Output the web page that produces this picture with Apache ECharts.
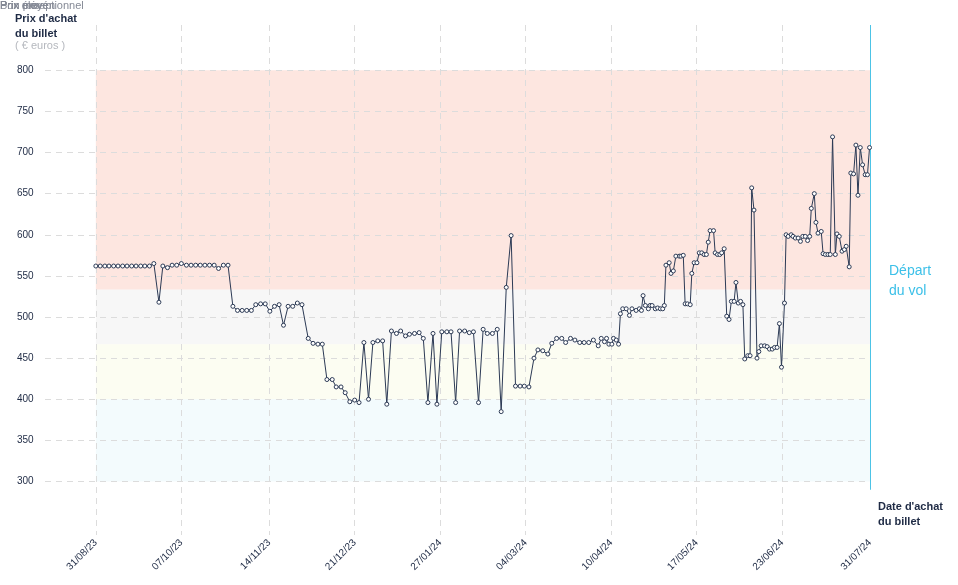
<!DOCTYPE html>
<html><head><meta charset="utf-8">
<script src="https://cdn.jsdelivr.net/npm/echarts@6/dist/echarts.min.js"></script>
<style>html,body{margin:0;padding:0;background:#fff}#c{width:958px;height:585px}</style>
</head><body><div id="c"></div>
<script>
// days since 31/08/23
const days = [0,1.9,3.9,5.7,7.7,9.6,11.6,13.5,15.5,17.4,19.4,21.2,23.2,25.1,27.3,29,31,33,35,37,39.2,41.2,43.2,45.2,47.2,49.2,51.2,53.1,55.2,57.2,59.3,61.3,63.3,65.3,67.3,69.2,71.3,73.3,75.3,77.3,79.3,81.2,83.2,85.2,87.2,89.2,
91.9,94,96.1,98,100,102.3,104,106.1,107.9,109.9,112,113.9,116,118,119.9,122,124.1,125.9,127.9,130.1,131.9,134,135.7,137.9,139.9,141.7,143.7,145.9,147.6,149.7,151.9,153.7,155.7,157.4,159.6,161.6,163.4,165.6,167.6,169.4,171.6,173.7,175.4,177.6,179.7,181.6,183.6,185.4,187.4,189.6,191.3,193.4,195.6,197.3,199.4,201.6,203.3,205.4,207.3,209.4,211.3,213.3,215.3,217.4,
218.7,220.1,221,222,223.3,224,225.2,226.2,227,228,229.5,230.9,232,233.8,235.2,236.1,236.8,237.8,239.1,239.8,240.7,242.1,243.1,244.3,245.3,246,246.7,248.1,248.9,249.9,251,252.5,253.2,254.2,255,256,257.2,257.9,258.9,260.1,261.1,262.2,263.2,264.2,265,265.8,267.3,268,269,270,270.8,271.9,273,274,275,276.2,277,278,279,280,280.8,282.1,283.1,283.8,284.8,286.1,286.9,287.9,289.4,290.5,291.5,292.7,293.7,294.8,295.8,296.7,298,298.7,299.6,300.9,301.7,302.7,303.9,304.9,305.9,307,308,308.9,309.6,310.9,311.6,312.5,313.9,314.7,315.7,316.8,317.8,318.8,320,320.7,321.7,322.9,323.9,324.7,326,326.7,327.9,328.9,329.8,330.8,331.8,332.9,333.9,334.8];
const prices = [562,562,562,562,562,562,562,562,562,562,562,562,562,565,518,562,560,563,563,565,563,563,563,563,563,563,563,559,563,563,513,508,508,508,508,515,516,516,507,513,515,490,513,513,517,515,
474,468,467,467,424,424,415,415,408,397,399,396,469,400,469,471,471,394,483,480,483,477,479,480,481,474,396,480,394,482,482,482,396,483,483,481,482,396,485,480,480,485,385,536,599,416,416,416,415,450,460,459,455,468,474,474,469,474,472,469,469,469,472,465,
474,470,474,467,467,474,472,467,504,510,510,502,510,508,510,508,526,514,510,514,514,510,511,510,510,514,563,566,553,556,574,574,574,575,516,516,515,553,566,566,578,578,576,576,591,605,605,578,576,576,578,583,501,497,519,519,542,517,519,515,449,453,453,657,630,450,458,465,465,464,461,461,463,463,492,439,517,600,598,600,598,596,596,592,598,598,593,598,632,650,615,602,604,577,576,576,576,719,576,601,598,580,582,586,561,675,674,709,648,706,685,673,673,706];
const tickDays = [0,37,75,112,149,186,223,260,297,335];
const tickLabels = ['31/08/23','07/10/23','14/11/23','21/12/23','27/01/24','04/03/24','10/04/24','17/05/24','23/06/24','31/07/24'];
const yTicks = [300,350,400,450,500,550,600,650,700,750,800];
const bands = [
  {name:'Prix élevé', from:533, to:800, color:'#fde6e0'},
  {name:'Prix moyen', from:467, to:533, color:'#f7f7f7'},
  {name:'Bon prix', from:400, to:467, color:'#fcfdf2'},
  {name:'Prix exceptionnel', from:300, to:400, color:'#f3fbfd'}
];

const data = days.map((d,i)=>[d,prices[i]]);
const grid = '#dcdcdc';
const chart = echarts.init(document.getElementById('c'));
chart.setOption({
  animation:false,
  grid:{left:45,right:88,top:25,bottom:50},
  xAxis:{type:'value',min:-22,max:335,splitLine:{show:false},axisLine:{show:false},axisTick:{show:false},
    axisLabel:{customValues:tickDays,rotate:45,color:'#1e2a44',fontSize:10,fontFamily:'Liberation Sans',margin:6,
      formatter:v=>{const i=tickDays.indexOf(v);return i>=0?tickLabels[i]:'';}}},
  yAxis:{type:'value',min:235,max:855,splitLine:{show:false},axisLine:{show:false},axisTick:{show:false},
    axisLabel:{customValues:yTicks,align:'left',margin:28,color:'#1e2a44',fontSize:10,fontFamily:'Liberation Sans'}},
  graphic:[
    {type:'text',left:15,top:11,style:{text:"Prix d'achat\ndu billet",font:'bold 11px Liberation Sans',fill:'#1e2a44',lineHeight:15}},
    {type:'text',left:15,top:40,style:{text:'( € euros )',font:'11px Liberation Sans',fill:'#b5b8be'}},
    {type:'text',left:889,top:261,style:{text:'Départ\ndu vol',font:'14px Liberation Sans',fill:'#3cc0e8',lineHeight:20}},
    {type:'text',left:878,top:499,style:{text:"Date d'achat\ndu billet",font:'bold 11px Liberation Sans',fill:'#1e2a44',lineHeight:15}}
  ],
  series:[
    {type:'line',data:[],silent:true,
      markArea:{silent:true,data:bands.map(b=>[{xAxis:0,yAxis:b.to,itemStyle:{color:b.color},
        label:{show:true,position:'insideTopLeft',formatter:b.name,color:'#858a96',fontSize:11,fontFamily:'Liberation Sans',distance:[10,6]}},{xAxis:335,yAxis:b.from}])},
      markLine:{silent:true,symbol:'none',label:{show:false},
        data:[...yTicks.map(v=>[{coord:[-22,v]},{coord:[333,v]}].map(o=>Object.assign(o,{lineStyle:{color:grid,type:[6,5],width:1}}))),
              ...tickDays.slice(0,9).map(d=>[{coord:[d,855],lineStyle:{color:grid,type:[6,5],width:1}},{coord:[d,235]}]),
              [{coord:[335,855],lineStyle:{color:'#4cc3e6',type:'solid',width:1}},{coord:[335,290]}]]}},
    {type:'line',data:data,symbol:'circle',symbolSize:4,showAllSymbol:true,
      lineStyle:{color:'#2c3a55',width:1},itemStyle:{color:'#fff',borderColor:'#2c3a55',borderWidth:1},z:5}
  ]
});
</script></body></html>
